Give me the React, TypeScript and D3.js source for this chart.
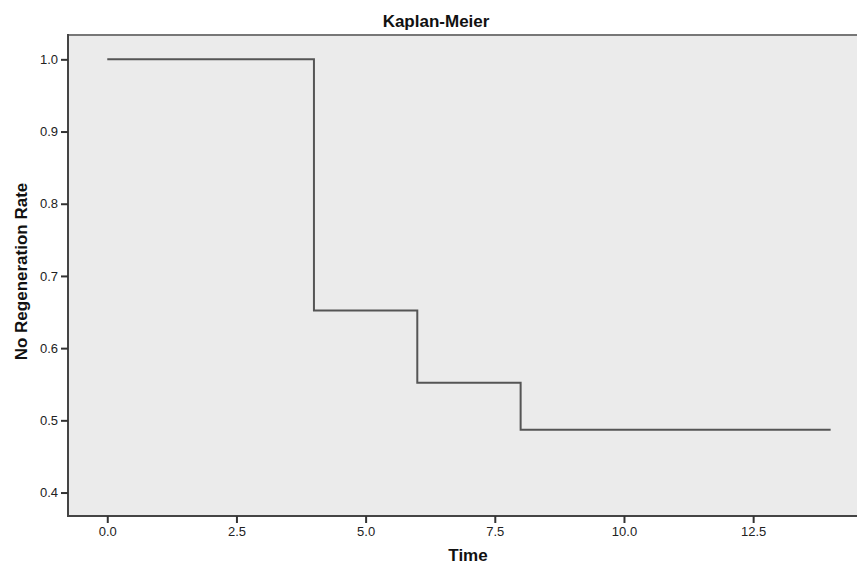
import React, { useRef, useEffect } from 'react';
import { select, scaleLinear, axisBottom, axisLeft, line, curveStepAfter } from 'd3';

const times = [0, 4, 6, 8, 14];
const survival = [1.0, 0.652, 0.552, 0.487, 0.487];
const xTicks = [0, 2.5, 5, 7.5, 10, 12.5];
const yTicks = [0.4, 0.5, 0.6, 0.7, 0.8, 0.9, 1.0];

const W = 857;
const H = 567;
const left = 68;
const right = 857;
const top = 35;
const bottom = 516;

const App = () => {
  const svgRef = useRef<SVGSVGElement>(null);

  useEffect(() => {
    const svg = select(svgRef.current);

    const xScale = scaleLinear().domain([-0.76, 14.51]).range([left, right]);
    const yScale = scaleLinear().domain([0.3675, 1.0337]).range([bottom, top]);

    const xAxis = axisBottom(xScale)
      .tickValues(xTicks)
      .tickSize(7)
      .tickPadding(4)
      .tickFormat((d) => (d as number).toFixed(1));
    svg
      .select<SVGGElement>('.xAxis')
      .attr('transform', `translate(0,${bottom})`)
      .call(xAxis)
      .call((g) => g.select('.domain').remove());

    const yAxis = axisLeft(yScale)
      .tickValues(yTicks)
      .tickSize(7)
      .tickPadding(3)
      .tickFormat((d) => (d as number).toFixed(1));
    svg
      .select<SVGGElement>('.yAxis')
      .attr('transform', `translate(${left},0)`)
      .call(yAxis)
      .call((g) => g.select('.domain').remove());

    svg
      .selectAll('.tick line')
      .attr('stroke', '#333')
      .attr('stroke-width', 2);
    svg
      .selectAll('.tick text')
      .attr('fill', '#222')
      .style('font-family', 'Liberation Sans, Arial, sans-serif')
      .style('font-size', '13px');

    const pts = times.map((t, i) => [t, survival[i]] as [number, number]);
    const path = line<[number, number]>()
      .x((d) => xScale(d[0]))
      .y((d) => yScale(d[1]))
      .curve(curveStepAfter);

    svg
      .select('.km')
      .datum(pts)
      .attr('d', path)
      .attr('fill', 'none')
      .attr('stroke', '#555')
      .attr('stroke-width', 2);
  }, []);

  return (
    <svg
      ref={svgRef}
      width={W}
      height={H}
      style={{ position: 'absolute', left: 0, top: 0, background: '#fff' }}
    >
      <rect x={left} y={top} width={right - left + 2} height={bottom - top} fill="#ebebeb" />
      <line x1={left} x2={right} y1={top} y2={top} stroke="#777" strokeWidth={2} />
      <line x1={left} x2={right} y1={bottom} y2={bottom} stroke="#444" strokeWidth={2} />
      <line x1={left} x2={left} y1={top - 1} y2={bottom + 1} stroke="#444" strokeWidth={2} />
      <path className="km" />
      <g className="xAxis" />
      <g className="yAxis" />
      <text
        x={436}
        y={27}
        textAnchor="middle"
        style={{ fontFamily: 'Liberation Sans, Arial, sans-serif', fontSize: 17, fontWeight: 'bold' }}
        fill="#111"
      >
        Kaplan-Meier
      </text>
      <text
        x={468}
        y={561}
        textAnchor="middle"
        style={{ fontFamily: 'Liberation Sans, Arial, sans-serif', fontSize: 17, fontWeight: 'bold' }}
        fill="#111"
      >
        Time
      </text>
      <text
        transform="translate(27,271.5) rotate(-90)"
        textAnchor="middle"
        style={{ fontFamily: 'Liberation Sans, Arial, sans-serif', fontSize: 17, fontWeight: 'bold' }}
        fill="#111"
      >
        No Regeneration Rate
      </text>
    </svg>
  );
};

export default App;
